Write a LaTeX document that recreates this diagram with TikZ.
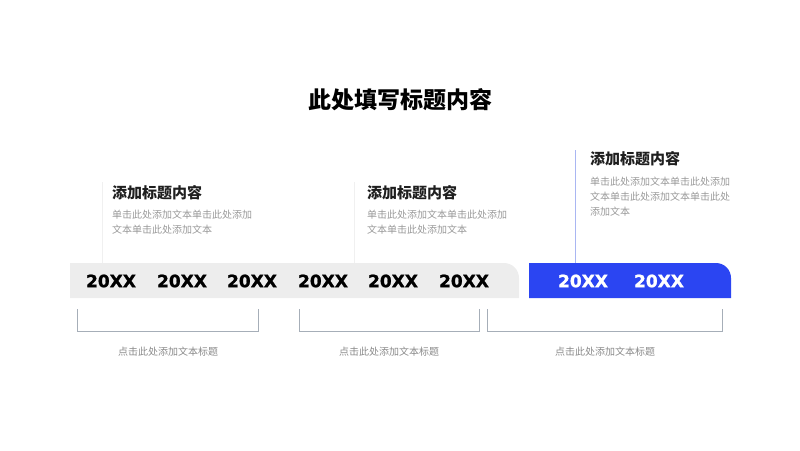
\documentclass[tikz,border=0pt]{standalone}
\usepackage{fontspec}
\setmainfont{Noto Sans CJK SC}
\newfontfamily\yearfont[FakeBold=1.2]{DejaVu Sans Bold}
\definecolor{barblue}{HTML}{2B45F2}
\definecolor{bargray}{HTML}{EDEDED}
\definecolor{bodygray}{HTML}{999999}
\definecolor{labgray}{HTML}{8A8A8A}
\definecolor{brk}{HTML}{A6AEB8}
\definecolor{faint}{HTML}{F0F0F0}
\definecolor{lblue}{HTML}{A9B6F2}
\begin{document}
\begin{tikzpicture}[x=1pt,y=-1pt,
  yearlab/.style={font=\yearfont\fontsize{17}{17}\selectfont, inner sep=0pt},
  headlab/.style={font=\bfseries\fontsize{15}{15}\selectfont, anchor=west, inner sep=0pt, text=black!88},
  bodylab/.style={font=\fontsize{10}{15}\selectfont, anchor=north west, inner sep=0pt, align=left, text=bodygray},
  footlab/.style={font=\fontsize{10}{10}\selectfont, inner sep=0pt, text=labgray},
  bracketline/.style={draw=brk, line width=0.9pt}]
\useasboundingbox (0,0) rectangle (800,450);
% title
\node[font=\bfseries\fontsize{23}{23}\selectfont, inner sep=0pt] (title) at (400,100) {此处填写标题内容};
% bars
\fill[bargray] (70,263) -- (504,263) arc[start angle=-90, end angle=0, radius=15] -- (519,298) -- (70,298) -- cycle;
\fill[barblue] (529,263) -- (716,263) arc[start angle=-90, end angle=0, radius=15] -- (731,298) -- (529,298) -- cycle;
% vertical lines
\draw[faint, line width=0.8pt] (102,182) -- (102,263);
\draw[faint, line width=0.8pt] (354,182) -- (354,263);
\draw[lblue, line width=1pt] (575,150) -- (575,263);
% years
\foreach \x/\n in {111/y1,182/y2,252/y3,323/y4,393/y5,464/y6}
  \node[yearlab, text=black] (\n) at (\x,281) {20XX};
\foreach \x/\n in {583/y7,659/y8}
  \node[yearlab, text=white] (\n) at (\x,281) {20XX};
% text blocks
\node[headlab] (h1) at (112,193) {添加标题内容};
\node[bodylab] (b1) at (112,210) {单击此处添加文本单击此处添加\\文本单击此处添加文本};
\node[headlab] (h2) at (367,193) {添加标题内容};
\node[bodylab] (b2) at (367,210) {单击此处添加文本单击此处添加\\文本单击此处添加文本};
\node[headlab] (h3) at (590,159) {添加标题内容};
\node[bodylab] (b3) at (590,177) {单击此处添加文本单击此处添加\\文本单击此处添加文本单击此处\\添加文本};
% brackets
\draw[bracketline] (77,309) -- (77,331) -- (258,331) -- (258,309);
\draw[bracketline] (299,309) -- (299,331) -- (479,331) -- (479,309);
\draw[bracketline] (487,309) -- (487,331) -- (722,331) -- (722,309);
% foot labels
\node[footlab] (f1) at (168,352) {点击此处添加文本标题};
\node[footlab] (f2) at (389,352) {点击此处添加文本标题};
\node[footlab] (f3) at (605,352) {点击此处添加文本标题};
\end{tikzpicture}
\end{document}
